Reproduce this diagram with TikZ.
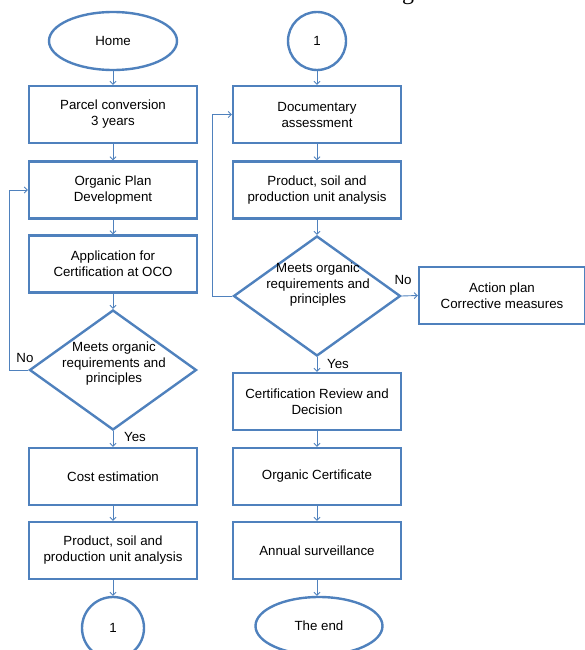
\documentclass[tikz,border=0pt]{standalone}
\usepackage{fontspec}
\setmainfont{Liberation Sans}
\newfontfamily\serifglyph{Liberation Serif}
\usetikzlibrary{shapes.geometric,arrows.meta}
\definecolor{ofblue}{RGB}{79,129,189}
\tikzset{
  boxstyle/.style={draw=ofblue, line width=2.4pt, rectangle, inner sep=0pt,
    minimum width=168pt, minimum height=57pt, align=center, text=black,
    font=\fontsize{13.3}{16}\selectfont},
  ovalstyle/.style={draw=ofblue, line width=2.4pt, ellipse, inner sep=0pt,
    align=center, text=black, font=\fontsize{13.3}{16}\selectfont},
  diastyle/.style={draw=ofblue, line width=2.4pt, diamond, inner sep=0pt,
    minimum width=167pt, minimum height=120pt},
  diatext/.style={align=center, inner sep=0pt, text=black,
    font=\fontsize{13.3}{15.5}\selectfont},
  lbl/.style={inner sep=0pt, text=black, font=\fontsize{13.3}{16}\selectfont},
  conn/.style={draw=ofblue, line width=0.9pt, -{Straight Barb[length=3pt,width=6pt]}}
}
\begin{document}
\begin{tikzpicture}[x=1pt,y=-1pt]
\useasboundingbox (0,0) rectangle (584,650);
% partial title glyph cut by the top edge
\node[anchor=base, inner sep=0pt, font=\serifglyph\fontsize{24}{24}\selectfont] (titleg) at (408,0) {g};

% left column
\node[ovalstyle, minimum width=128pt, minimum height=58pt] (home) at (113,41) {Home};
\node[boxstyle] (parcel) at (113,114.5) {Parcel conversion\\3 years};
\node[boxstyle] (plan) at (113,190) {Organic Plan\\Development};
\node[boxstyle] (appl) at (113,264) {Application for\\Certification at OCO};
\node[diastyle] (dia1) at (113,370) {};
\node[diatext] (dia1t) at (114,364) {Meets organic\\requirements and\\principles};
\node[boxstyle] (cost) at (113,476.5) {Cost estimation};
\node[boxstyle] (prod1) at (113,550.5) {Product, soil and\\production unit analysis};
\node[ovalstyle, circle, minimum size=62pt] (c1bot) at (113,628) {1};

% right column
\node[ovalstyle, circle, minimum size=58pt] (c1top) at (317,41) {1};
\node[boxstyle] (doc) at (317,114.5) {Documentary\\assessment};
\node[boxstyle] (prod2) at (317,190) {Product, soil and\\production unit analysis};
\node[diastyle] (dia2) at (317,296) {};
\node[diatext] (dia2t) at (318,285) {Meets organic\\requirements and\\principles};
\node[boxstyle] (cert) at (317,401.5) {Certification Review and\\Decision};
\node[boxstyle] (orgcert) at (317,476.5) {Organic Certificate};
\node[boxstyle] (annual) at (317,550.5) {Annual surveillance};
\node[ovalstyle, minimum width=127pt, minimum height=58pt] (theend) at (319,626) {The end};
\node[boxstyle, minimum width=166pt] (action) at (502,295.5) {Action plan\\Corrective measures};

% connectors left
\draw[conn] (home) -- (parcel);
\draw[conn] (parcel) -- (plan);
\draw[conn] (plan) -- (appl);
\draw[conn] (appl) -- (dia1);
\draw[conn] (dia1.south) -- (cost.north);
\draw[conn] (cost) -- (prod1);
\draw[conn] (prod1) -- (c1bot);
\draw[conn] (dia1.west) -- ++(-19,0) |- (plan.west);

% connectors right
\draw[conn] (c1top) -- (doc);
\draw[conn] (doc) -- (prod2);
\draw[conn] (prod2) -- (dia2);
\draw[conn] (dia2.south) -- (cert.north);
\draw[conn] (cert) -- (orgcert);
\draw[conn] (orgcert) -- (annual);
\draw[conn] (annual.south) -- (annual.south |- theend.north);
\draw[conn] (dia2.west) -- ++(-20,0) |- (doc.west);
\draw[conn] (dia2.east) -- (action.west);

% labels
\node[lbl] (no1) at (25,358) {No};
\node[lbl] (yes1) at (135,437) {Yes};
\node[lbl] (no2) at (403,280) {No};
\node[lbl] (yes2) at (338,364) {Yes};
\end{tikzpicture}
\end{document}
